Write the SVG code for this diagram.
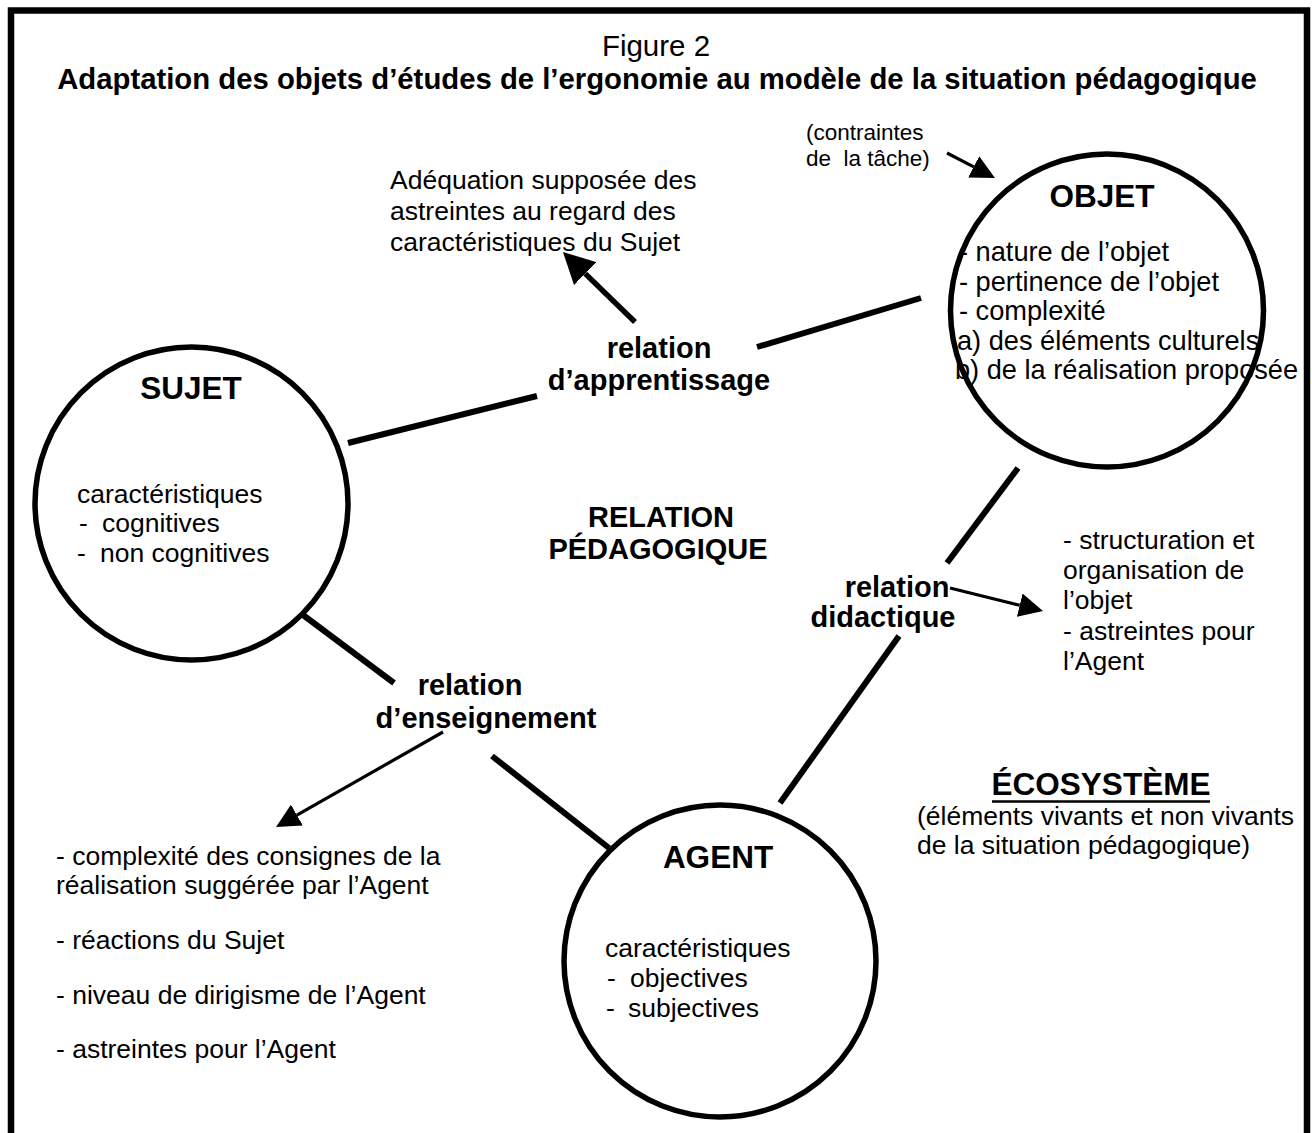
<svg xmlns="http://www.w3.org/2000/svg" width="1312" height="1133" viewBox="0 0 1312 1133">
<style>
text { font-family: "Liberation Sans", Arial, sans-serif; fill: #000; }
.reg { font-size: 26.5px; }
.obj { font-size: 27.2px; }
.small { font-size: 22.5px; white-space: pre; }
.lbl { font-size: 29px; font-weight: bold; text-anchor: middle; }
.ttl { font-size: 31.5px; font-weight: bold; text-anchor: middle; }
.node { fill: #fff; stroke: #000; stroke-width: 5.5; }
.rel { stroke: #000; stroke-width: 6; fill: none; }
.thin { stroke: #000; stroke-width: 3.2; fill: none; }
.thick { stroke: #000; stroke-width: 5.5; fill: none; }
</style>
<defs>
<marker id="ah" viewBox="0 0 24 24" refX="0" refY="12" markerWidth="24" markerHeight="24" markerUnits="userSpaceOnUse" orient="auto">
<path d="M0,0 L24,12 L0,24 z" fill="#000"/>
</marker>
<marker id="ahBig" viewBox="0 0 31 32" refX="0" refY="16" markerWidth="31" markerHeight="32" markerUnits="userSpaceOnUse" orient="auto">
<path d="M0,0 L31,16 L0,32 z" fill="#000"/>
</marker>
</defs>
<rect width="1312" height="1133" fill="#fff"/>
<g id="frame">
<path d="M11,1133 L11,10.5 L1307,10.5 L1307,1133" fill="none" stroke="#000" stroke-width="6.5"/>
</g>
<g id="heading">
<text x="656" y="56" style="font-size:29.5px" text-anchor="middle">Figure 2</text>
<text x="657" y="89" style="font-size:29.3px;font-weight:bold" text-anchor="middle">Adaptation des objets d’études de l’ergonomie au modèle de la situation pédagogique</text>
</g>
<g id="connectors">
<line class="rel" x1="348" y1="443" x2="537" y2="396"/>
<line class="rel" x1="757" y1="347" x2="921" y2="298"/>
<line class="rel" x1="1018" y1="468" x2="947" y2="563"/>
<line class="rel" x1="899" y1="636" x2="780" y2="803"/>
<line class="rel" x1="303" y1="615" x2="394" y2="683"/>
<line class="rel" x1="492" y1="756" x2="609" y2="848"/>
<line class="thick" x1="635" y1="322" x2="585.2" y2="273.6" marker-end="url(#ahBig)"/>
<line class="thin" x1="947" y1="153" x2="973.7" y2="166.9" marker-end="url(#ah)"/>
<line class="thin" x1="950" y1="588" x2="1019.7" y2="605.2" marker-end="url(#ah)"/>
<line class="thin" x1="443" y1="732" x2="296.9" y2="815.1" marker-end="url(#ah)"/>
</g>
<g id="sujet">
<circle class="node" cx="191.5" cy="503.5" r="156.5"/>
<text class="ttl" x="191" y="399">SUJET</text>
<text class="reg" x="77" y="503">caractéristiques</text>
<text class="reg"><tspan x="79" y="532">-</tspan><tspan x="102" y="532">cognitives</tspan></text>
<text class="reg"><tspan x="77" y="562">-</tspan><tspan x="100" y="562">non cognitives</tspan></text>
</g>
<g id="objet">
<circle class="node" cx="1107" cy="310.5" r="156.5"/>
<text class="ttl" x="1102" y="207">OBJET</text>
<text class="obj" x="959" y="261">- nature de l’objet</text>
<text class="obj" x="959" y="291">- pertinence de l’objet</text>
<text class="obj" x="959" y="320">- complexité</text>
<text class="obj" x="957" y="350">a) des éléments culturels</text>
<text class="obj" x="955" y="379">b) de la réalisation proposée</text>
</g>
<g id="agent">
<circle class="node" cx="720" cy="961" r="156"/>
<text class="ttl" x="718" y="868">AGENT</text>
<text class="reg" x="605" y="957">caractéristiques</text>
<text class="reg"><tspan x="607" y="987">-</tspan><tspan x="630" y="987">objectives</tspan></text>
<text class="reg"><tspan x="606" y="1017">-</tspan><tspan x="628" y="1017">subjectives</tspan></text>
</g>
<g id="labels">
<text class="lbl" x="659" y="358">relation</text>
<text class="lbl" x="659" y="390">d’apprentissage</text>
<text class="lbl" x="470" y="695">relation</text>
<text class="lbl" x="486" y="728">d’enseignement</text>
<text class="lbl" x="897" y="597">relation</text>
<text class="lbl" x="883" y="627">didactique</text>
<text class="lbl" x="661" y="527">RELATION</text>
<text class="lbl" x="658" y="559">PÉDAGOGIQUE</text>
</g>
<g id="notes">
<text class="small" x="806" y="140">(contraintes</text>
<text class="small" x="806" y="166">de  la tâche)</text>
<text class="reg" x="390" y="189">Adéquation supposée des</text>
<text class="reg" x="390" y="220">astreintes au regard des</text>
<text class="reg" x="390" y="251">caractéristiques du Sujet</text>
<text class="reg" x="1063" y="549">- structuration et</text>
<text class="reg" x="1063" y="579">organisation de</text>
<text class="reg" x="1063" y="609">l’objet</text>
<text class="reg" x="1063" y="640">- astreintes pour</text>
<text class="reg" x="1063" y="670">l’Agent</text>
<text class="reg" x="56" y="865">- complexité des consignes de la</text>
<text class="reg" x="56" y="894">réalisation suggérée par l’Agent</text>
<text class="reg" x="56" y="949">- réactions du Sujet</text>
<text class="reg" x="56" y="1004">- niveau de dirigisme de l’Agent</text>
<text class="reg" x="56" y="1058">- astreintes pour l’Agent</text>
</g>
<g id="ecosysteme">
<text class="ttl" x="1101" y="795">ÉCOSYSTÈME</text>
<line x1="992" y1="801.5" x2="1210" y2="801.5" stroke="#000" stroke-width="2.5"/>
<text class="reg" x="917" y="825">(éléments vivants et non vivants</text>
<text class="reg" x="917" y="854">de la situation pédagogique)</text>
</g>
</svg>
